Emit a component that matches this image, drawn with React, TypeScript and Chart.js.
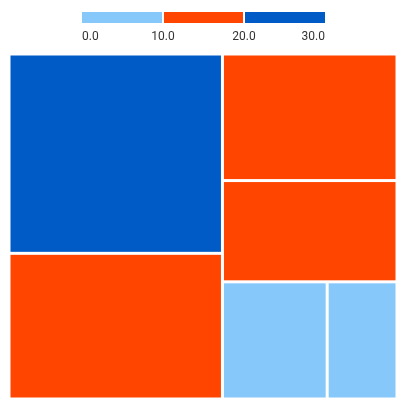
import React, { useEffect, useRef } from "react";
import { Chart, registerables } from "chart.js";

Chart.register(...registerables);

const names = ["A", "B", "C", "D", "E", "F"];
const values = [26, 19, 13.5, 10.8, 7.5, 5];
const pieceBounds = [0, 10, 20, 30];
const pieceLabels = ["0.0", "10.0", "20.0", "30.0"];
const pieceColors = ["#87C8FB", "#FF4500", "#015BC6"];

function colorFor(v: number) {
  for (let i = 0; i < pieceColors.length; i++) {
    if (v >= pieceBounds[i] && v < pieceBounds[i + 1]) return pieceColors[i];
  }
  return pieceColors[pieceColors.length - 1];
}

type R = { x: number; y: number; w: number; h: number; v: number };

function worst(row: number[], s: number) {
  const sum = row.reduce((a, b) => a + b, 0);
  const mx = Math.max(...row);
  const mn = Math.min(...row);
  return Math.max((s * s * mx) / (sum * sum), (sum * sum) / (s * s * mn));
}

function squarify(vals: number[], x: number, y: number, w: number, h: number): R[] {
  const out: R[] = [];
  const total = vals.reduce((a, b) => a + b, 0);
  const scale = (w * h) / total;
  const areas = vals.map((v) => v * scale);
  let i = 0;
  while (i < areas.length) {
    const s = Math.min(w, h);
    const row = [areas[i]];
    let j = i + 1;
    while (j < areas.length && worst([...row, areas[j]], s) <= worst(row, s)) {
      row.push(areas[j]);
      j++;
    }
    const rowSum = row.reduce((a, b) => a + b, 0);
    if (w >= h) {
      const cw = rowSum / h;
      let cy = y;
      row.forEach((a, k) => {
        const rh = a / cw;
        out.push({ x, y: cy, w: cw, h: rh, v: vals[i + k] });
        cy += rh;
      });
      x += cw;
      w -= cw;
    } else {
      const rh = rowSum / w;
      let cx = x;
      row.forEach((a, k) => {
        const rw = a / rh;
        out.push({ x: cx, y, w: rw, h: rh, v: vals[i + k] });
        cx += rw;
      });
      y += rh;
      h -= rh;
    }
    i = j;
  }
  return out;
}

const treemapPlugin = {
  id: "treemapDraw",
  afterDatasetsDraw(chart: any) {
    const { ctx, chartArea, scales } = chart;
    const xs = scales.x;
    const ys = scales.y;
    const W = chartArea.right - chartArea.left;
    const H = chartArea.bottom - chartArea.top;
    const rects = squarify(values, 0, 0, W, H);
    const gap = 1.5;
    ctx.save();
    rects.forEach((r) => {
      const x0 = xs.getPixelForValue(r.x / W);
      const x1 = xs.getPixelForValue((r.x + r.w) / W);
      const y0 = ys.getPixelForValue(1 - r.y / H);
      const y1 = ys.getPixelForValue(1 - (r.y + r.h) / H);
      ctx.fillStyle = colorFor(r.v);
      ctx.fillRect(x0 + gap, y0 + gap, x1 - x0 - 2 * gap, y1 - y0 - 2 * gap);
    });
    // piecewise legend
    const lx0 = 82;
    const lx1 = 325;
    const segW = (lx1 - lx0) / pieceColors.length;
    const ly = 12;
    const lh = 11;
    pieceColors.forEach((c, i) => {
      ctx.fillStyle = c;
      ctx.fillRect(lx0 + i * segW + (i > 0 ? 1 : 0), ly, segW - (i < pieceColors.length - 1 ? 1 : 0) - (i > 0 ? 1 : 0), lh);
    });
    ctx.fillStyle = "#333333";
    ctx.font = "12px Roboto";
    ctx.textBaseline = "alphabetic";
    pieceLabels.forEach((t, i) => {
      const px = lx0 + i * segW;
      ctx.textAlign = i === 0 ? "left" : i === pieceLabels.length - 1 ? "right" : "center";
      ctx.fillText(t, px, 40);
    });
    ctx.restore();
  },
};

export default function App() {
  const ref = useRef<HTMLCanvasElement>(null);
  useEffect(() => {
    if (!ref.current) return;
    const chart = new Chart(ref.current, {
      type: "scatter",
      data: {
        datasets: [{ label: names.join(","), data: [], pointRadius: 0 }],
      },
      options: {
        animation: false,
        responsive: false,
        maintainAspectRatio: false,
        layout: { padding: { left: 9, right: 10, top: 54, bottom: 6 } },
        plugins: { legend: { display: false }, tooltip: { enabled: false } },
        scales: {
          x: { type: "linear", min: 0, max: 1, display: false },
          y: { type: "linear", min: 0, max: 1, display: false },
        },
      },
      plugins: [treemapPlugin],
    });
    return () => chart.destroy();
  }, []);
  return (
    <div style={{ position: "fixed", left: 0, top: 0, width: 407, height: 405, background: "#fff" }}>
      <canvas ref={ref} width={407} height={405} style={{ width: 407, height: 405 }} />
    </div>
  );
}
